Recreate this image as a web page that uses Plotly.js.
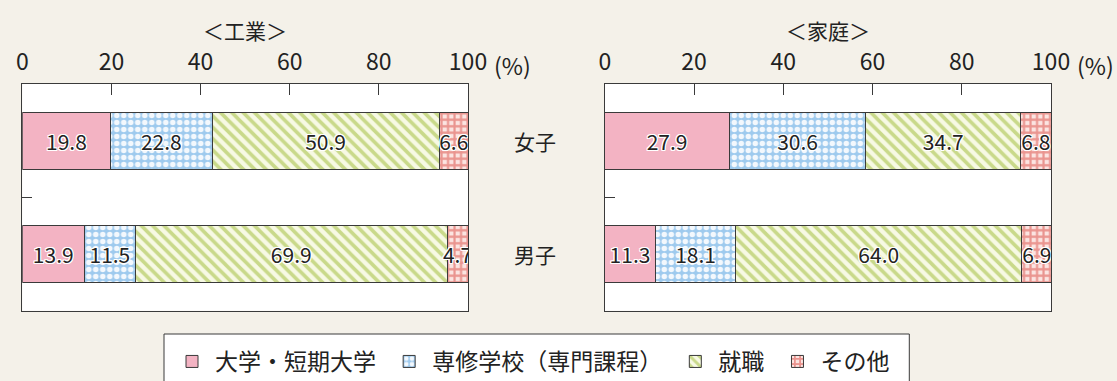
<!DOCTYPE html>
<html>
<head>
<meta charset="utf-8">
<script src="https://cdn.plot.ly/plotly-3.0.1.min.js"></script>
<style>
  html, body { margin: 0; padding: 0; background: #f4f1e9; }
  #chart { width: 1117px; height: 381px; }
</style>
</head>
<body>
<div id="chart"></div>
<script>
// Categories (rows) and course destinations (stacked segments)
const categories = ['女子', '男子'];
const seriesNames = ['大学・短期大学', '専修学校（専門課程）', '就職', 'その他'];
const panelTitles = ['＜工業＞', '＜家庭＞'];
const tickValues = [0, 20, 40, 60, 80, 100];

// 工業
const kogyoUniv = [19.8, 13.9];
const kogyoSenshu = [22.8, 11.5];
const kogyoShushoku = [50.9, 69.9];
const kogyoOther = [6.6, 4.7];

// 家庭
const kateiUniv = [27.9, 11.3];
const kateiSenshu = [30.6, 18.1];
const kateiShushoku = [34.7, 64.0];
const kateiOther = [6.8, 6.9];

const FONT = '"Noto Sans CJK JP", "Noto Sans", sans-serif';
const INK = '#222222';
const FRAME = '#3a3a3a';
const W = 1117, H = 381;

const markers = [
  { color: '#f3b3c3', pattern: { shape: '' } },
  { color: '#9ecaee', pattern: { shape: '.', bgcolor: '#9ecaee', fgcolor: '#f3f8fd', size: 7, solidity: 0.5, fillmode: 'replace' } },
  { color: '#c9d98a', pattern: { shape: '\\', bgcolor: '#f7f9e4', fgcolor: '#c9d98a', size: 8, solidity: 0.45, fillmode: 'replace' } },
  { color: '#ea948f', pattern: { shape: '+', bgcolor: '#fbe4e1', fgcolor: '#ea948f', size: 6.5, solidity: 0.55, fillmode: 'replace' } }
];

const halo = '1px 1px 0 #fff, -1px -1px 0 #fff, 1px -1px 0 #fff, -1px 1px 0 #fff, 0 1px 0 #fff, 0 -1px 0 #fff, 1px 0 0 #fff, -1px 0 0 #fff';

// a little breathing room after each legend label
const legendPad = '\u00a0';

function makeTraces(seriesList, xa, ya, showLegend) {
  return seriesList.map((vals, i) => ({
    type: 'bar',
    orientation: 'h',
    name: i < seriesList.length - 1 ? seriesNames[i] + legendPad : seriesNames[i],
    legendgroup: seriesNames[i],
    showlegend: showLegend,
    x: vals,
    y: categories,
    xaxis: xa,
    yaxis: ya,
    width: 0.5,
    marker: Object.assign({ line: { color: FRAME, width: 1 } }, markers[i]),
    texttemplate: '%{x:.1f}',
    textposition: 'inside',
    insidetextanchor: 'middle',
    textangle: 0,
    constraintext: 'none',
    textfont: { family: FONT, size: 21, color: INK, shadow: halo },
    hoverinfo: 'skip'
  }));
}

const data = [
  ...makeTraces([kogyoUniv, kogyoSenshu, kogyoShushoku, kogyoOther], 'x', 'y', true),
  ...makeTraces([kateiUniv, kateiSenshu, kateiShushoku, kateiOther], 'x2', 'y2', false)
];

function xAxis(domain, anchor) {
  return {
    domain: domain, anchor: anchor, side: 'top',
    range: [0, 100], fixedrange: true,
    tickmode: 'array', tickvals: tickValues,
    ticks: 'inside', ticklen: 11, tickcolor: FRAME, tickwidth: 1,
    tickfont: { family: FONT, size: 23, color: INK },
    ticklabelstandoff: 4,
    showgrid: false, zeroline: false,
    showline: true, mirror: true, linecolor: FRAME, linewidth: 1
  };
}
function yAxis(anchor) {
  return {
    domain: [1 - 310.7 / H, 1 - 84 / H], anchor: anchor,
    type: 'category', categoryorder: 'array', categoryarray: categories,
    range: [1.5, -0.5], fixedrange: true,
    showticklabels: false,
    ticks: 'inside', tickson: 'boundaries', ticklen: 10, tickcolor: FRAME, tickwidth: 1,
    showgrid: false, zeroline: false,
    showline: true, mirror: true, linecolor: FRAME, linewidth: 1
  };
}

const domL = [22.3 / W, 468 / W];
const domR = [604.8 / W, 1051 / W];

const annotations = [];
[domL, domR].forEach((d, k) => {
  // panel title
  annotations.push({
    xref: 'paper', yref: 'paper', x: (d[0] + d[1]) / 2, y: 1 - 30 / H,
    text: panelTitles[k], showarrow: false, xanchor: 'center', yanchor: 'middle',
    font: { family: FONT, size: 21, color: INK }
  });
  // unit after the 100 tick
  annotations.push({
    xref: 'paper', yref: 'paper', x: d[1], y: 1 - 64.5 / H, xshift: 24,
    text: '(%)', showarrow: false, xanchor: 'left', yanchor: 'middle',
    font: { family: FONT, size: 23, color: INK }
  });
});
// row labels between the two panels
categories.forEach(c => {
  annotations.push({
    xref: 'paper', yref: 'y', x: 535 / W, y: c,
    text: c, showarrow: false, xanchor: 'center', yanchor: 'middle',
    font: { family: FONT, size: 21, color: INK }
  });
});

// legend frame
const shapes = [{
  type: 'rect', xref: 'paper', yref: 'paper', layer: 'above',
  x0: 164 / W, x1: 909.3 / W, y0: -0.2, y1: 1 - 334 / H,
  fillcolor: '#ffffff', line: { color: FRAME, width: 1 }
}];

const layout = {
  width: W, height: H,
  margin: { l: 0, r: 0, t: 0, b: 0, autoexpand: false },
  paper_bgcolor: '#f4f1e9', plot_bgcolor: '#ffffff',
  barmode: 'stack',
  font: { family: FONT, color: INK },
  xaxis: xAxis(domL, 'y'),
  yaxis: yAxis('x'),
  xaxis2: xAxis(domR, 'y2'),
  yaxis2: yAxis('x2'),
  showlegend: true,
  legend: {
    orientation: 'h', x: 169 / W, xanchor: 'left', y: 1 - 340 / H, yanchor: 'top',
    bgcolor: 'rgba(0,0,0,0)', borderwidth: 0,
    itemwidth: 36,
    font: { family: FONT, size: 23, color: INK },
    traceorder: 'normal', itemclick: false, itemdoubleclick: false
  },
  shapes: shapes,
  annotations: annotations
};

Plotly.newPlot('chart', data, layout, { staticPlot: true, displayModeBar: false });
</script>
</body>
</html>
